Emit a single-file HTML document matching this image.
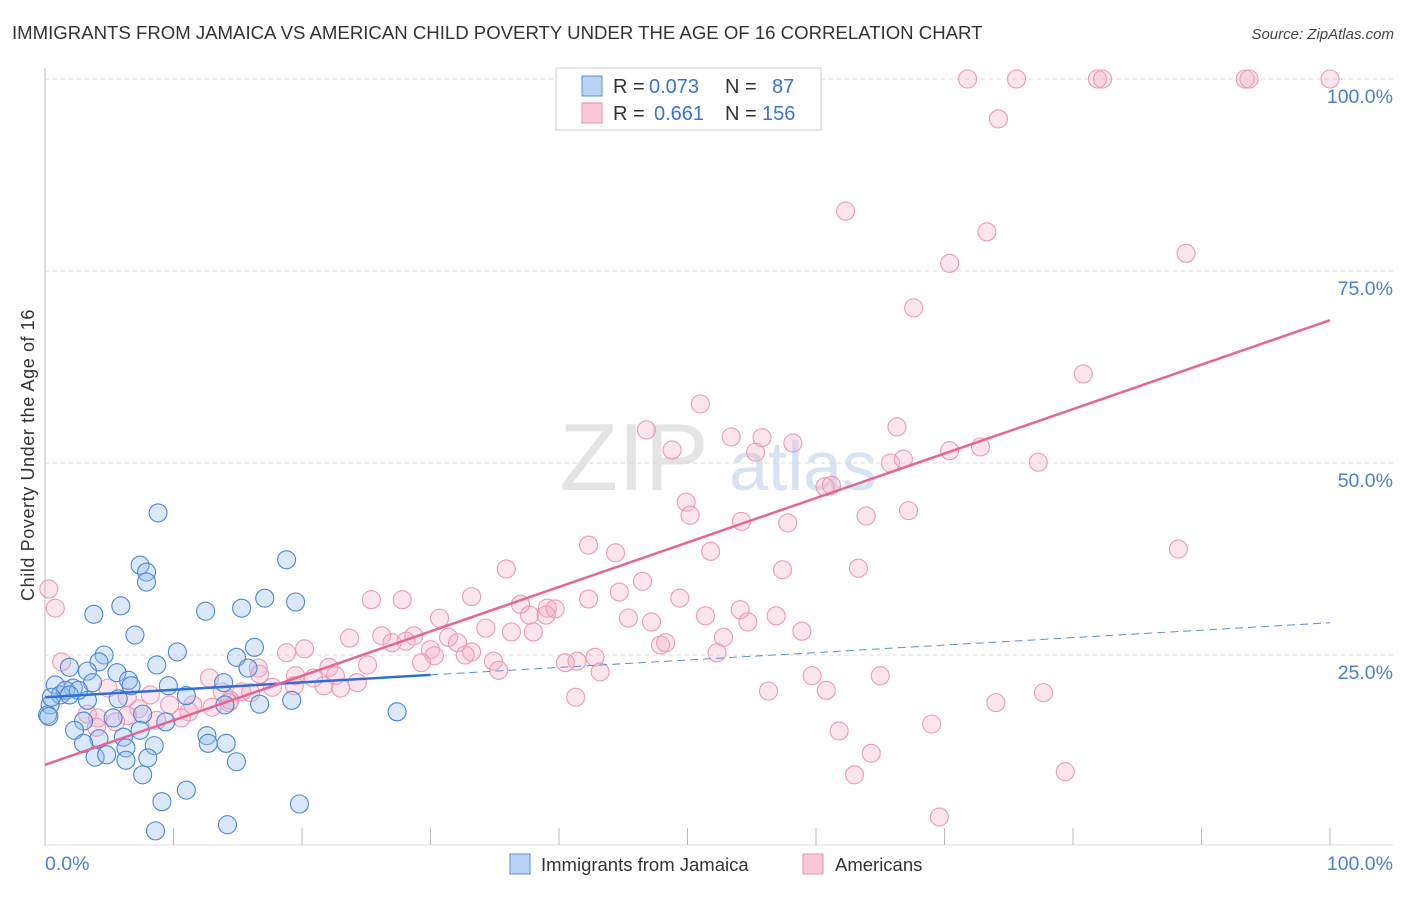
<!DOCTYPE html>
<html><head><meta charset="utf-8"><style>
body{margin:0;background:#fff;font-family:"Liberation Sans",sans-serif;}
svg text{font-family:"Liberation Sans",sans-serif;}
</style></head><body>
<svg width="1406" height="892" viewBox="0 0 1406 892" xmlns="http://www.w3.org/2000/svg">
<text x="12" y="39" font-size="18.6" fill="#333">IMMIGRANTS FROM JAMAICA VS AMERICAN CHILD POVERTY UNDER THE AGE OF 16 CORRELATION CHART</text>
<text x="1394" y="39" font-size="15" fill="#444" text-anchor="end" font-style="italic">Source: ZipAtlas.com</text>
<text x="0" y="0" transform="translate(34,455) rotate(-90)" font-size="18" letter-spacing="0.6" fill="#333" text-anchor="middle">Child Poverty Under the Age of 16</text>
<g id="wm">
<text x="634" y="490" font-size="96" fill="#e4e4e4" font-family="Liberation Serif,serif" text-anchor="middle">ZIP</text>
<text x="803" y="490" font-size="70" fill="#d7e3f3" text-anchor="middle">atlas</text>
</g>
<g id="grid"></g><g id="axes"></g><g id="pts"></g><g id="lines"></g>
<g>
<rect x="556" y="68" width="265" height="62" fill="#fff" stroke="#ccc"/>
<rect x="582" y="76" width="20" height="20" fill="#b8d3f5" stroke="#5a8fd8"/>
<rect x="582" y="103" width="20" height="20" fill="#fbc8d8" stroke="#e890ad"/>
<g font-size="20" fill="#333">
<text x="613" y="93">R =</text><text x="649" y="93" fill="#3b74d1">0.073</text><text x="725" y="93">N =</text><text x="772" y="93" fill="#3b74d1">87</text>
<text x="613" y="120">R =</text><text x="654" y="120" fill="#3b74d1">0.661</text><text x="725" y="120">N =</text><text x="762" y="120" fill="#3b74d1">156</text>
</g>
</g>
<g>
<rect x="510" y="854" width="20" height="20" fill="#b8d3f5" stroke="#5a8fd8"/>
<text x="541" y="871" font-size="18.5" fill="#333">Immigrants from Jamaica</text>
<rect x="803" y="854" width="20" height="20" fill="#fbc8d8" stroke="#e890ad"/>
<text x="835" y="871" font-size="18.5" fill="#333">Americans</text>
</g>
</svg>
<script>
const blueX=[8.8,7.4,7.9,7.9,18.8,3.8,5.9,12.5,15.3,17.1,19.5,7.0,16.3,10.3,4.6,4.2,14.9,8.7,3.3,1.9,5.6,6.5,15.8,6.7,9.6,11.0,13.9,3.7,2.2,0.8,1.2,0.4,0.2,3.3,5.7,16.7,19.2,27.4,14.0,7.6,3.0,5.3,9.4,7.4,2.3,12.6,4.2,6.1,8.5,6.3,12.7,14.1,3.0,3.9,4.8,6.3,8.0,14.9,7.6,11.0,9.1,19.8,8.6,14.2,1.6,2.6,1.9,0.3,0.5];
const blueY=[43.5,36.7,35.8,34.5,37.4,30.3,31.4,30.7,31.1,32.4,31.9,27.6,26.0,25.4,25.0,24.1,24.7,23.7,22.9,23.4,22.7,21.7,23.3,21.0,21.0,19.7,21.4,21.4,20.7,21.1,19.8,18.5,17.2,19.1,19.3,18.6,19.1,17.6,18.5,17.3,16.4,16.8,16.3,15.2,15.2,14.5,14.1,14.3,13.2,12.9,13.5,13.5,13.5,11.7,12.0,11.3,11.6,11.1,9.4,7.4,5.9,5.6,2.1,2.9,20.4,20.4,19.8,17.0,19.5];
const pinkX=[71.8,75.6,81.9,82.3,93.4,93.7,100,59.2,74.2,62.3,73.3,70.4,88.8,67.6,80.8,51.0,46.8,53.4,55.8,58.2,48.8,66.3,55.3,72.8,70.4,66.8,65.8,77.3,60.7,61.2,49.9,50.2,67.2,63.9,54.2,57.8,42.3,44.4,51.8,88.2,35.9,57.4,63.3,46.5,33.2,42.3,44.7,49.4,37.0,39.1,39.7,25.4,27.8,30.7,54.1,37.7,45.4,39.0,56.9,54.7,51.4,58.9,47.2,34.3,23.7,26.2,28.7,27.0,31.4,32.1,30.0,36.3,38.0,33.2,28.1,52.8,47.9,48.3,20.2,18.8,40.5,41.4,42.8,52.3,30.3,32.7,34.9,35.3,43.2,25.1,29.3,22.1,12.8,16.6,16.7,19.5,20.9,22.6,59.7,65.0,17.7,19.4,21.7,23.0,24.3,56.3,60.8,77.7,13.8,15.3,14.4,16.0,4.9,6.4,8.2,9.7,11.5,13.0,14.3,11.2,7.3,6.4,5.5,3.3,4.1,4.0,41.3,74.0,1.3,0.3,0.8,61.8,69.0,64.3,63.0,79.4,69.6,8.7,10.6];
const pinkY=[100,100,100,100,100,100,100,95.1,94.8,82.8,80.1,76.0,77.3,70.2,61.6,57.7,54.3,53.4,53.3,52.6,51.7,54.7,51.4,52.1,51.6,50.5,50.0,50.1,46.9,47.1,44.9,43.2,43.8,43.1,42.4,42.2,39.3,38.3,38.5,38.8,36.2,36.1,36.3,34.6,32.6,32.3,33.2,32.4,31.6,31.1,31.0,32.2,32.2,29.8,30.9,30.2,29.8,30.2,30.1,29.3,30.1,28.1,29.3,28.5,27.2,27.5,27.5,26.6,27.3,26.6,25.7,28.0,28.0,25.4,26.8,27.3,26.3,26.6,25.8,25.3,24.0,24.2,24.7,25.3,24.9,25.0,24.2,23.0,22.8,23.7,24.0,23.4,22.0,23.3,22.5,22.3,22.0,22.3,22.3,22.3,20.8,21.0,21.0,20.7,21.4,20.3,20.4,20.1,20.2,20.2,19.1,20.1,20.7,19.5,19.8,18.5,18.5,18.2,18.8,17.6,18.0,17.1,16.3,17.3,16.8,15.6,19.5,18.8,24.1,33.6,31.1,15.1,16.0,12.2,9.4,9.8,3.9,16.5,16.8];
const yTicks=[25,50,75,100];
const xTickVals=[0,10,20,30,40,50,60,70,80,90,100];
const blueTrend=[19.5,29.2];
const pinkTrend=[10.7,68.6];
const NS='http://www.w3.org/2000/svg';
const sx=v=>45+v*12.85, sy=v=>847-v*7.68;
function mk(tag,attrs,parent){const e=document.createElementNS(NS,tag);for(const k in attrs)e.setAttribute(k,attrs[k]);parent.appendChild(e);return e;}
const grid=document.getElementById('grid'),axes=document.getElementById('axes'),pts=document.getElementById('pts'),lines=document.getElementById('lines');
yTicks.forEach(t=>{
 const l=mk('line',{x1:45,x2:1393,y1:sy(t),y2:sy(t),stroke:'#d8d8d8','stroke-dasharray':'4,4'},grid);
 
 
 const tx=mk('text',{x:1393,y:sy(t)+24,'font-size':19.5,fill:'#4a7fd0','text-anchor':'end'},axes);
 tx.textContent=t.toFixed(1)+'%';
 
 
});
const ax=mk('line',{x1:45,x2:45,y1:68,y2:846,stroke:'#bbb'},axes);


const bx=mk('line',{x1:45,x2:1393,y1:845,y2:845,stroke:'#ddd'},axes);


xTickVals.forEach(t=>{
 const l=mk('line',{x1:sx(t),x2:sx(t),y1:828,y2:845,stroke:'#bbb'},axes);
 
 
});
const xl0=mk('text',{x:45,y:870,'font-size':19.5,fill:'#4a7fd0'},axes);xl0.textContent='0.0%';


const xl1=mk('text',{x:1393,y:870,'font-size':19.5,fill:'#4a7fd0','text-anchor':'end'},axes);xl1.textContent='100.0%';


pinkX.forEach((x,i)=>{
 const c=mk('circle',{cx:sx(x),cy:sy(pinkY[i]),r:9,fill:'rgba(246,170,196,0.3)',stroke:'#eb9ab5','stroke-width':1.1},pts);
 
 
});
blueX.forEach((x,i)=>{
 const c=mk('circle',{cx:sx(x),cy:sy(blueY[i]),r:9,fill:'rgba(150,190,238,0.35)',stroke:'#4a86d8','stroke-width':1.1},pts);
 
 
});
const by=x=>blueTrend[0]+(blueTrend[1]-blueTrend[0])*x/100;
const b1=mk('line',{x1:sx(0),y1:sy(by(0)),x2:sx(30),y2:sy(by(30)),stroke:'#2f6fd6','stroke-width':2.5},lines);


const b2=mk('line',{x1:sx(30),y1:sy(by(30)),x2:sx(100),y2:sy(by(100)),stroke:'#5a8fd8','stroke-width':1,'stroke-dasharray':'8,5'},lines);


const p1=mk('line',{x1:sx(0),y1:sy(pinkTrend[0]),x2:sx(100),y2:sy(pinkTrend[1]),stroke:'#e66592','stroke-width':2.5},lines);


</script>
</body></html>
